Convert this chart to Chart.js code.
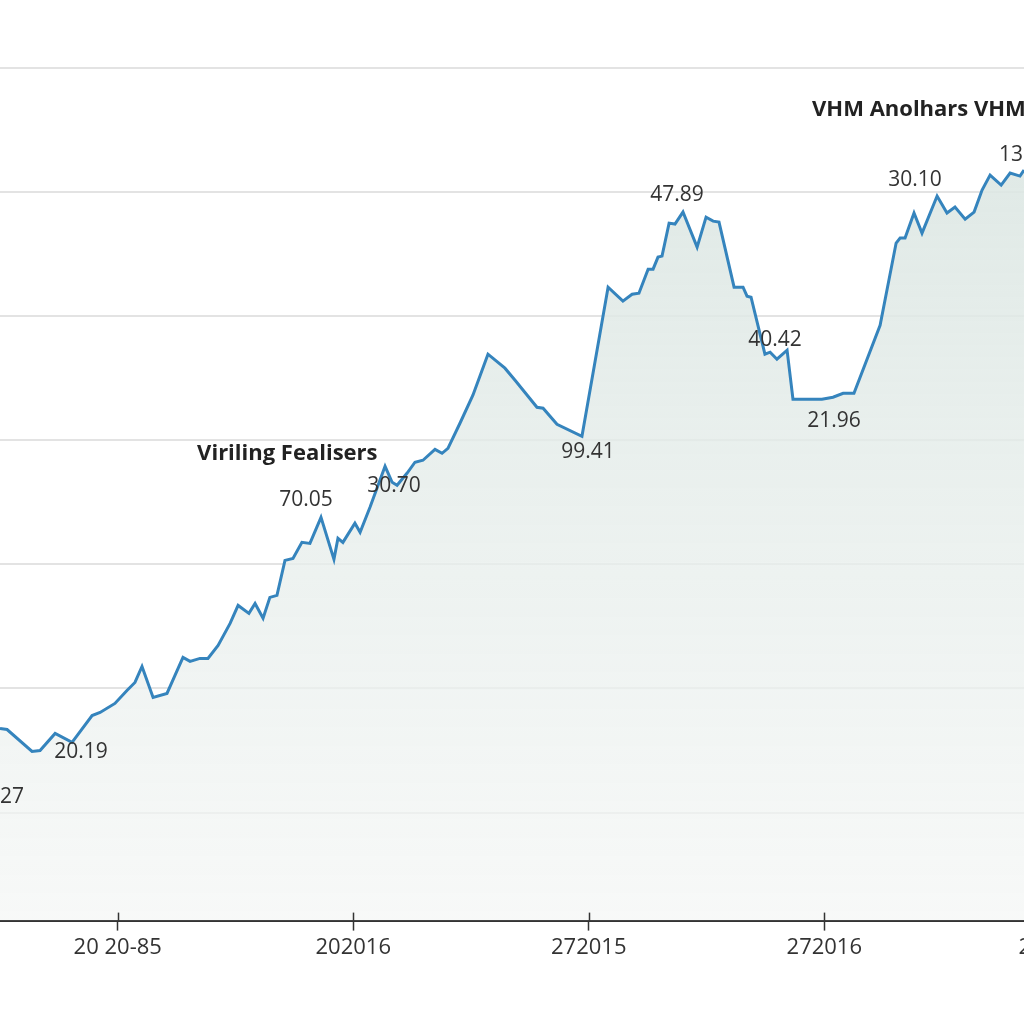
<!DOCTYPE html>
<html>
<head>
<meta charset="utf-8">
<script src="https://cdn.jsdelivr.net/npm/chart.js@4"></script>
<style>
  html, body { margin: 0; padding: 0; background: #fff; }
  canvas { display: block; }
</style>
</head>
<body>
<canvas id="priceChart" width="1024" height="1024"></canvas>
<script>
// series
const xValues = [
  5.00, 5.30, 6.36, 6.70, 7.34, 8.06, 8.91, 9.25, 9.88, 10.39,
  10.73, 11.03, 11.50, 12.09, 12.43, 12.77, 13.07, 13.49, 13.83, 14.26,
  14.77, 15.11, 15.57, 15.83, 16.17, 16.46, 16.76, 17.10, 17.44, 17.82,
  18.16, 18.63, 19.18, 19.35, 19.56, 20.07, 20.29, 20.71, 21.35, 21.65,
  21.86, 22.28, 22.62, 22.96, 23.47, 23.77, 24.02, 24.53, 25.08, 25.72,
  26.44, 26.87, 27.80, 28.06, 28.65, 29.71, 30.82, 31.45, 31.84, 32.13,
  32.52, 32.73, 32.94, 33.11, 33.41, 33.66, 34.00, 34.60, 34.98, 35.28,
  35.53, 36.17, 36.55, 36.72, 36.89, 37.48, 37.70, 37.99, 38.42, 38.67,
  39.27, 39.90, 40.37, 40.80, 41.26, 42.37, 43.05, 43.22, 43.43, 43.81,
  44.15, 44.79, 45.21, 45.55, 45.98, 46.36, 46.70, 47.04, 47.51, 47.89,
  48.31, 48.48
];
const yValues = [
  16.77, 16.69, 14.92, 15.00, 16.37, 15.65, 17.82, 18.06, 18.79, 19.84,
  20.48, 21.77, 19.27, 19.60, 21.05, 22.50, 22.18, 22.42, 22.42, 23.47,
  25.24, 26.69, 26.05, 26.85, 25.65, 27.34, 27.50, 30.32, 30.48, 31.77,
  31.69, 33.79, 30.40, 32.10, 31.77, 33.31, 32.58, 34.60, 37.90, 36.61,
  36.37, 37.34, 38.23, 38.39, 39.27, 38.95, 39.35, 41.37, 43.63, 46.94,
  45.81, 44.84, 42.66, 42.58, 41.29, 40.32, 52.34, 51.21, 51.77, 51.85,
  53.79, 53.79, 54.76, 54.84, 57.50, 57.42, 58.39, 55.56, 57.98, 57.66,
  57.58, 52.34, 52.34, 51.61, 51.53, 46.94, 47.10, 46.53, 47.26, 43.31,
  43.31, 43.31, 43.47, 43.79, 43.79, 49.27, 55.89, 56.29, 56.29, 58.31,
  56.69, 59.68, 58.31, 58.79, 57.82, 58.39, 60.16, 61.37, 60.56, 61.53,
  61.29, 61.77
];

const xTickValues = [10, 20, 30, 40, 50];
const xTickLabels = ['20 20-85', '202016', '272015', '272016', '2020-17'];
const yGridValues = [10, 20, 30, 40, 50, 60, 70];

// text notes on the plot, anchored in data units
const noteTexts = ['VHM Anolhars VHM ,', 'Viriling Fealisers', '47.89', '30.10', '13.4',
  '40.42', '21.96', '99.41', '70.05', '30.70', '20.19', '20.27'];
const noteX = [39.48, 13.37, 33.75, 43.85, 47.42, 37.91, 40.41, 29.97, 17.99, 21.73, 8.44, 6.02];
const noteY = [66.61, 38.95, 59.76, 60.97, 62.98, 48.06, 41.53, 39.03, 35.16, 36.29, 14.84, 11.21];
const noteBold = [true, true, false, false, false, false, false, false, false, false, false, false];
const noteAlign = ['left', 'left', 'center', 'center', 'left', 'center', 'center', 'center', 'center', 'center', 'center', 'right'];

Chart.defaults.font.family = "'Open Sans', sans-serif";
Chart.defaults.color = '#333';

const notesPlugin = {
  id: 'notes',
  afterDraw(chart) {
    const { ctx, scales: { x, y } } = chart;
    ctx.save();

    // tick marks poke a little above the axis
    ctx.strokeStyle = '#333';
    ctx.lineWidth = 1.5;
    xTickValues.forEach(v => {
      const px = Math.round(x.getPixelForValue(v)) + 0.5;
      ctx.beginPath();
      ctx.moveTo(px, y.bottom - 8);
      ctx.lineTo(px, y.bottom);
      ctx.stroke();
    });

    // last tick label sits past the right edge, only its first glyph shows
    const last = xTickValues.length - 1;
    ctx.fillStyle = '#333';
    ctx.font = "22px 'Open Sans', sans-serif";
    ctx.textAlign = 'center';
    ctx.textBaseline = 'middle';
    ctx.fillText(xTickLabels[last], x.getPixelForValue(xTickValues[last]), x.top + 10 + 4 + 13);

    noteTexts.forEach((t, i) => {
      ctx.font = noteBold[i] ? "bold 22px 'Open Sans', sans-serif" : "21px 'Open Sans', sans-serif";
      ctx.fillStyle = noteBold[i] ? '#222' : '#333';
      ctx.textAlign = noteAlign[i];
      ctx.fillText(t, x.getPixelForValue(noteX[i]), y.getPixelForValue(noteY[i]));
    });
    ctx.restore();
  }
};

const ctx = document.getElementById('priceChart').getContext('2d');

new Chart(ctx, {
  type: 'line',
  data: {
    datasets: [{
      data: xValues.map((v, i) => ({ x: v, y: yValues[i] })),
      borderColor: '#3584bd',
      borderWidth: 3,
      pointRadius: 0,
      tension: 0,
      fill: 'start',
      backgroundColor(context) {
        const area = context.chart.chartArea;
        if (!area) return 'rgba(225,234,231,0.8)';
        const g = context.chart.ctx.createLinearGradient(0, area.top, 0, area.bottom);
        g.addColorStop(0, 'rgba(216,228,224,0.95)');
        g.addColorStop(0.5, 'rgba(228,236,233,0.8)');
        g.addColorStop(1, 'rgba(244,246,245,0.7)');
        return g;
      }
    }]
  },
  options: {
    responsive: false,
    animation: false,
    layout: { padding: { left: 0, right: 0, top: 0, bottom: 59 } },
    scales: {
      x: {
        type: 'linear',
        min: 5,
        max: 48.48,
        afterBuildTicks(scale) {
          scale.ticks = xTickValues.filter(v => v <= scale.max).map(v => ({ value: v }));
        },
        ticks: {
          autoSkip: false,
          maxRotation: 0,
          padding: 4,
          font: { size: 22 },
          color: '#333',
          callback: v => xTickLabels[xTickValues.indexOf(v)]
        },
        grid: {
          drawOnChartArea: false,
          drawTicks: true,
          tickLength: 10,
          tickColor: '#333',
          tickWidth: 1.5
        },
        border: { display: true, color: '#333', width: 2 }
      },
      y: {
        min: 1.29,
        max: 75.48,
        afterBuildTicks(scale) {
          scale.ticks = yGridValues.map(v => ({ value: v }));
        },
        ticks: { display: false },
        grid: { color: '#e3e3e3', lineWidth: 2, drawTicks: false },
        border: { display: false }
      }
    },
    plugins: {
      legend: { display: false },
      tooltip: { enabled: false }
    }
  },
  plugins: [notesPlugin]
});
</script>
</body>
</html>
